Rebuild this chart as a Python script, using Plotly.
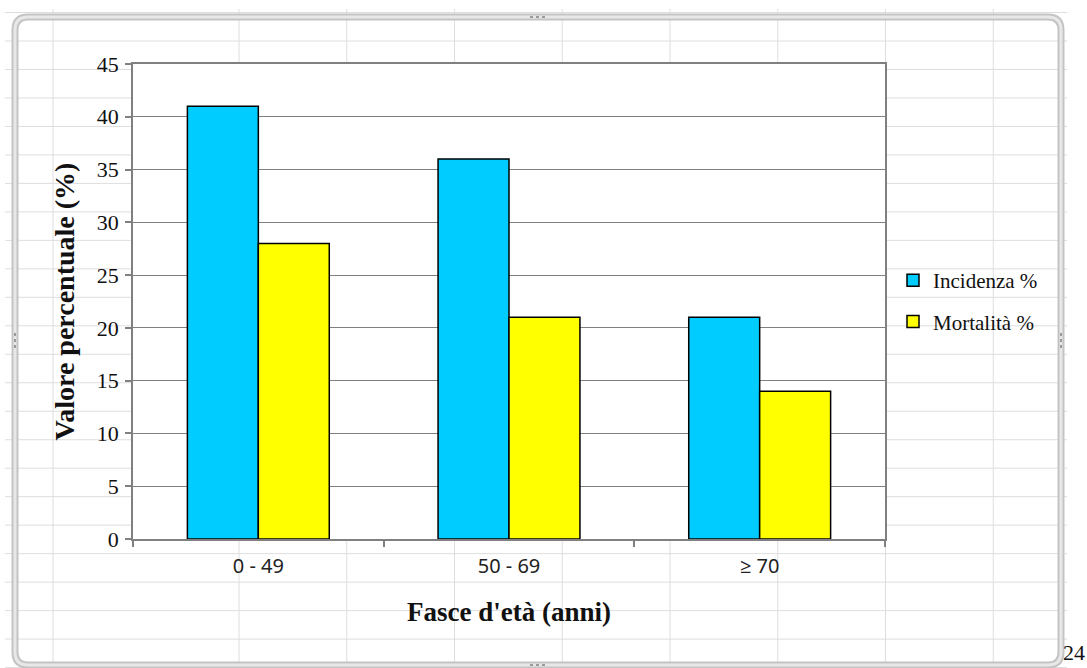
import plotly.graph_objects as go

# Chart values
categories = ["0 - 49", "50 - 69", "\u2265 70"]
incidenza = [41, 36, 21]
mortalita = [28, 21, 14]
y_ticks = [0, 5, 10, 15, 20, 25, 30, 35, 40, 45]

# Page and plot-area geometry (pixels)
W, H = 1087, 668
L, R, T, B = 133, 885, 64, 539


def px(x):
    return (x - L) / (R - L)


def py(y):
    return (B - y) / (B - T)


SERIF = "Liberation Serif, Times New Roman, serif"
SANS = "Noto Sans, Open Sans, sans-serif"
AXIS_GREY = "#808080"

fig = go.Figure()
fig.add_trace(go.Bar(
    x=categories, y=incidenza, name="Incidenza %", legendgroup="inc",
    marker=dict(color="#00CCFF", line=dict(color="#000000", width=1.5)),
))
fig.add_trace(go.Bar(
    x=categories, y=mortalita, name="Mortalità %", legendgroup="mort",
    marker=dict(color="#FFFF00", line=dict(color="#000000", width=1.5)),
))

shapes = []

# Worksheet cell grid behind the chart
col_x = [53] + [239 + 107.75 * k for k in range(8)]
for x in col_x:
    shapes.append(dict(type="line", xref="paper", yref="paper",
                       x0=px(x), x1=px(x), y0=py(9), y1=py(H),
                       line=dict(color="#dedede", width=1), layer="below"))
for k in range(-1, 23):
    y = 41 + 28.48 * k
    shapes.append(dict(type="line", xref="paper", yref="paper",
                       x0=px(5), x1=px(1067), y0=py(y), y1=py(y),
                       line=dict(color="#dedede", width=1), layer="below"))

# White plot-area fill over the cell grid
shapes.append(dict(type="rect", xref="paper", yref="paper",
                   x0=0, x1=1, y0=0, y1=1,
                   fillcolor="white", line=dict(width=0), layer="below"))

# Rounded chart-object frame
fx0, fy0, fx1, fy1, rad = 15, 17, 1061, 665, 13


def rounded_path(x0, y0, x1, y1, r):
    pts = [
        f"M{px(x0 + r)},{py(y0)}",
        f"L{px(x1 - r)},{py(y0)}",
        f"Q{px(x1)},{py(y0)} {px(x1)},{py(y0 + r)}",
        f"L{px(x1)},{py(y1 - r)}",
        f"Q{px(x1)},{py(y1)} {px(x1 - r)},{py(y1)}",
        f"L{px(x0 + r)},{py(y1)}",
        f"Q{px(x0)},{py(y1)} {px(x0)},{py(y1 - r)}",
        f"L{px(x0)},{py(y0 + r)}",
        f"Q{px(x0)},{py(y0)} {px(x0 + r)},{py(y0)}",
        "Z",
    ]
    return " ".join(pts)


frame = rounded_path(fx0, fy0, fx1, fy1, rad)
shapes.append(dict(type="path", xref="paper", yref="paper", path=frame,
                   line=dict(color="#c4c4c4", width=7), layer="above"))
shapes.append(dict(type="path", xref="paper", yref="paper", path=frame,
                   line=dict(color="#e8e8e8", width=3), layer="above"))

# Resize handles on the frame
handles = [
    (530, fy0, 548, fy0),
    (530, fy1, 548, fy1),
    (fx0, 333, fx0, 349),
    (fx1, 333, fx1, 349),
]
for hx0, hy0, hx1, hy1 in handles:
    shapes.append(dict(type="line", xref="paper", yref="paper",
                       x0=px(hx0), x1=px(hx1), y0=py(hy0), y1=py(hy1),
                       line=dict(color="#9a9a9a", width=2, dash="dot"),
                       layer="above"))

fig.update_layout(
    width=W, height=H,
    margin=dict(l=L, r=W - R, t=T, b=H - B, pad=0),
    paper_bgcolor="white",
    plot_bgcolor="white",
    barmode="group",
    bargap=0.434,
    bargroupgap=0,
    showlegend=True,
    legend=dict(
        x=px(893), xanchor="left", y=py(301), yanchor="middle",
        font=dict(family=SERIF, size=21, color="#111111"),
        bgcolor="rgba(0,0,0,0)", traceorder="grouped", tracegroupgap=11,
        itemwidth=30,
    ),
    xaxis=dict(
        type="category",
        tickson="boundaries",
        ticks="outside", ticklen=6, tickcolor=AXIS_GREY, tickwidth=1.5,
        showline=True, linecolor=AXIS_GREY, linewidth=1.5, mirror=True,
        showgrid=False,
        ticklabelstandoff=8,
        tickfont=dict(family=SANS, size=20, color="#222222"),
        title=dict(text="Fasce d'età (anni)", standoff=24,
                   font=dict(family=SERIF, size=27, color="#111111",
                             weight="bold")),
    ),
    yaxis=dict(
        range=[0, 45],
        tickvals=y_ticks,
        ticks="outside", ticklen=6, tickcolor=AXIS_GREY, tickwidth=1.5,
        showline=True, linecolor=AXIS_GREY, linewidth=1.5, mirror=True,
        showgrid=True, gridcolor=AXIS_GREY, gridwidth=1.3,
        zeroline=False,
        ticklabelstandoff=2,
        tickfont=dict(family=SERIF, size=22, color="#111111"),
        title=dict(text="Valore percentuale (%)", standoff=14,
                   font=dict(family=SERIF, size=28, color="#111111",
                             weight="bold")),
    ),
    shapes=shapes,
    annotations=[dict(
        text="24", xref="paper", yref="paper", x=px(1074), y=py(652),
        xanchor="center", yanchor="middle", showarrow=False,
        font=dict(family=SERIF, size=22, color="#111111"),
    )],
)

fig.write_html("out.html")
